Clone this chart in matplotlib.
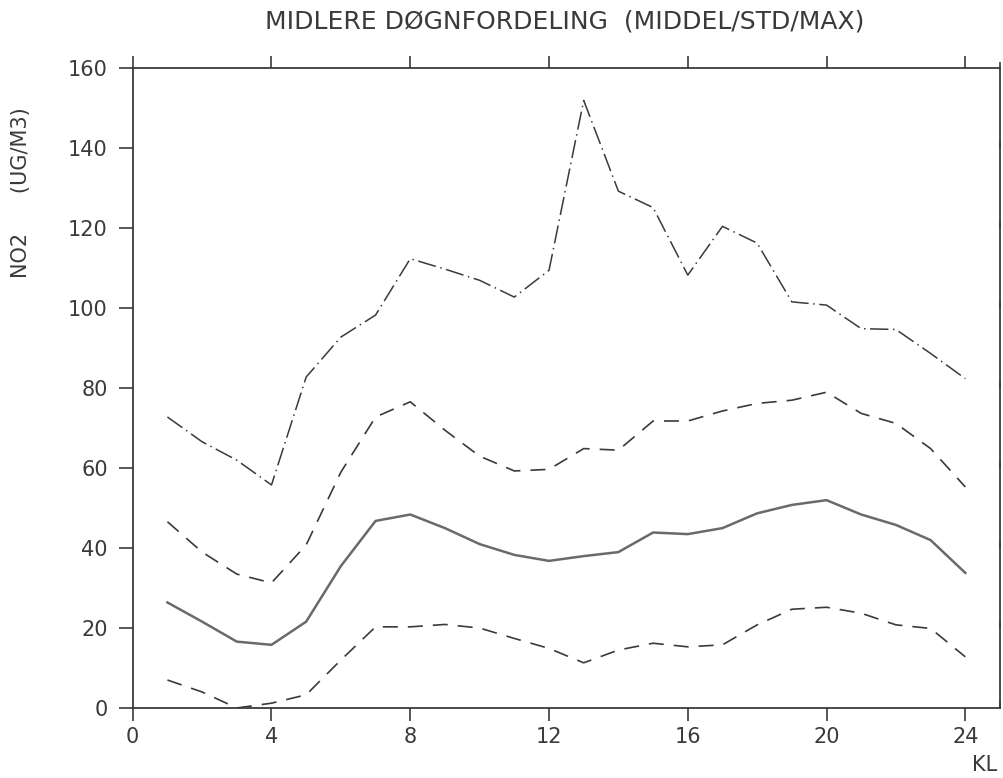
import numpy as np
import matplotlib.pyplot as plt

plt.rcParams['font.family'] = ['DejaVu Sans']

hours = np.arange(1, 25)
middel = [26.4, 21.6, 16.6, 15.8, 21.6, 35.5, 46.8, 48.4, 45.0, 41.0, 38.3, 36.8,
          38.0, 39.0, 43.9, 43.5, 45.0, 48.7, 50.8, 52.0, 48.4, 45.8, 42.0, 33.8]
std_upper = [46.6, 39.0, 33.5, 31.3, 40.8, 59.0, 72.8, 76.6, 69.5, 63.0, 59.3, 59.7,
             64.9, 64.5, 71.8, 71.8, 74.3, 76.2, 77.0, 79.0, 73.7, 71.2, 64.9, 55.3]
std_lower = [7.0, 4.0, 0.0, 1.2, 3.3, 12.0, 20.3, 20.3, 20.9, 20.0, 17.4, 14.9,
             11.3, 14.5, 16.2, 15.3, 15.8, 20.8, 24.7, 25.2, 23.7, 20.8, 19.9, 12.8]
maks = [72.8, 66.6, 62.0, 55.8, 82.8, 92.8, 98.3, 112.4, 109.8, 107.0, 102.8, 109.5,
        152.0, 129.3, 125.2, 108.3, 120.5, 116.3, 101.6, 100.8, 94.9, 94.7, 88.7, 82.4]

x_ticks = np.arange(0, 25, 4)
y_ticks = np.arange(0, 161, 20)

ink = '#3a3a3a'

fig = plt.figure(figsize=(10.04, 7.78), dpi=100)
ax = fig.add_axes([0.1322, 0.09, 0.8638, 0.822])

ax.plot(hours, middel, color='#6a6a6a', linewidth=1.8, linestyle='-')
ax.plot(hours, std_upper, color=ink, linewidth=1.2, linestyle=(0, (9, 6)))
ax.plot(hours, std_lower, color=ink, linewidth=1.2, linestyle=(0, (9, 6)))
ax.plot(hours, maks, color=ink, linewidth=1.1, linestyle=(0, (12, 3, 1, 3)))

ax.set_xlim(0, 25)
ax.set_ylim(0, 160)
ax.set_xticks(x_ticks)
ax.set_yticks(y_ticks)

for s in ax.spines.values():
    s.set_color(ink)
    s.set_linewidth(1.3)

ax.tick_params(axis='x', which='both', direction='out', length=9, width=1.2,
               color=ink, top=True, labeltop=False, labelsize=15,
               labelcolor=ink, pad=5)
ax.tick_params(axis='y', which='both', direction='out', length=10, width=1.2,
               color=ink, labelsize=15, labelcolor=ink, pad=8)
ax.tick_params(axis='y', which='both', right=True)
for t in ax.yaxis.get_major_ticks():
    t.tick2line.set_marker(2)  # inward on the right spine
    t.tick2line.set_markersize(4)

fig.text(0.562, 0.972, 'MIDLERE DØGNFORDELING  (MIDDEL/STD/MAX)',
         ha='center', va='center', fontsize=18, color=ink)
fig.text(0.021, 0.753, 'NO2      (UG/M3)', rotation=90,
         ha='center', va='center', fontsize=15, color=ink)
fig.text(0.981, 0.017, 'KL', ha='center', va='center', fontsize=15, color=ink)

fig.savefig('out.png', dpi=100)
